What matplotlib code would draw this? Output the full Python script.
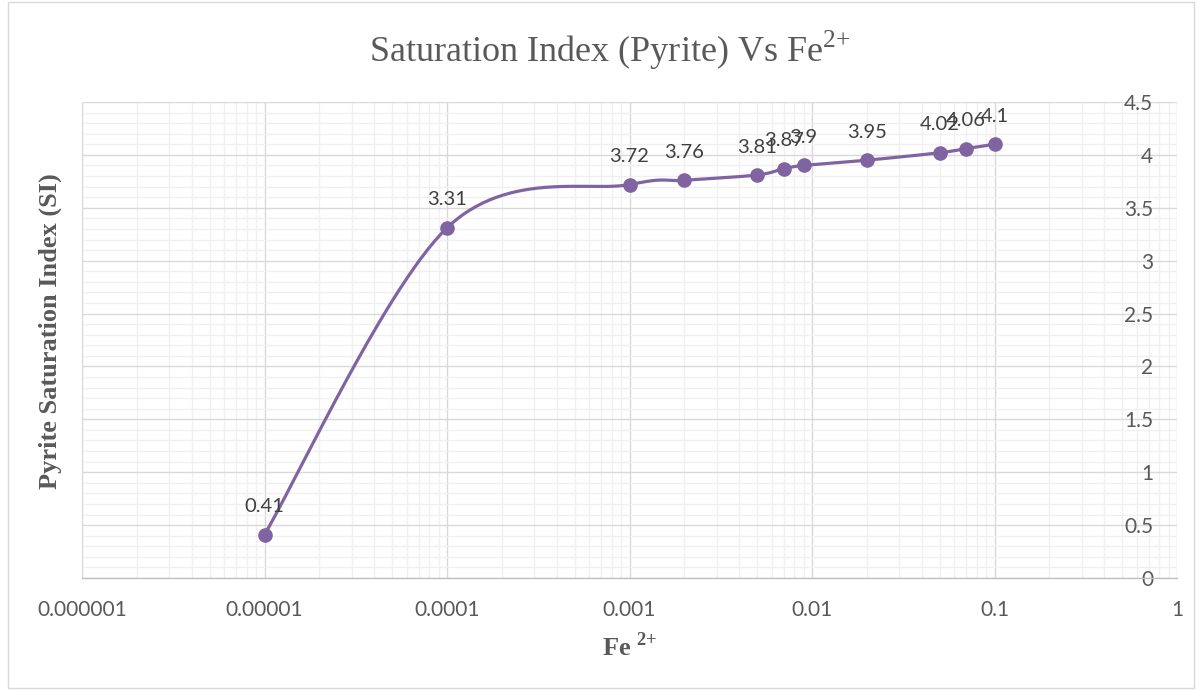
import numpy as np
import matplotlib
matplotlib.use("Agg")
import matplotlib.pyplot as plt
from matplotlib.ticker import FixedLocator, NullFormatter, LogLocator
from matplotlib.patches import Rectangle

# Fe2+ concentration and pyrite saturation index
fe_conc = [0.00001, 0.0001, 0.001, 0.002, 0.005, 0.007, 0.009, 0.02, 0.05, 0.07, 0.1]
sat_index = [0.41, 3.31, 3.72, 3.76, 3.81, 3.87, 3.9, 3.95, 4.02, 4.06, 4.1]
x_tick_vals = [1e-6, 1e-5, 1e-4, 1e-3, 1e-2, 1e-1, 1]
x_tick_labels = ["0.000001", "0.00001", "0.0001", "0.001", "0.01", "0.1", "1"]
y_tick_vals = [0, 0.5, 1, 1.5, 2, 2.5, 3, 3.5, 4, 4.5]
y_tick_labels = ["0", "0.5", "1", "1.5", "2", "2.5", "3", "3.5", "4", "4.5"]

plt.rcParams["mathtext.fontset"] = "custom"
plt.rcParams["mathtext.rm"] = "Liberation Serif"
plt.rcParams["mathtext.bf"] = "Liberation Serif:bold"

W, H = 1204, 690
fig = plt.figure(figsize=(W / 100, H / 100), dpi=100)
fig.patch.set_facecolor("white")

# chart-area border
fig.add_artist(Rectangle((8 / W, 2 / H), 1186 / W, 686 / H, transform=fig.transFigure,
                         fill=False, edgecolor="#D9D9D9", linewidth=1.0))

left, right, top, bottom = 82, 1177, 102, 578
ax = fig.add_axes([left / W, (H - bottom) / H, (right - left) / W, (bottom - top) / H])
ax.set_xscale("log")
ax.set_xlim(1e-6, 1)
ax.set_ylim(0, 4.5)

MAJ = "#D9D9D9"
MIN = "#F0F0F0"
TXT = "#595959"

# grid
ax.xaxis.set_major_locator(FixedLocator(x_tick_vals))
ax.xaxis.set_minor_locator(LogLocator(base=10, subs=np.arange(2, 10), numticks=20))
ax.xaxis.set_minor_formatter(NullFormatter())
ax.set_xticklabels(x_tick_labels)
ax.yaxis.set_major_locator(FixedLocator(y_tick_vals))
ax.yaxis.set_minor_locator(FixedLocator(np.round(np.arange(0, 4.51, 0.1), 2)))
ax.set_yticklabels(y_tick_labels)
ax.grid(which="minor", color=MIN, linewidth=1.0, zorder=0)
ax.grid(which="major", color=MAJ, linewidth=1.0, zorder=0)
ax.set_axisbelow(True)

for s in ["top", "right"]:
    ax.spines[s].set_visible(False)
ax.spines["left"].set_color(MAJ)
ax.spines["bottom"].set_color("#BFBFBF")
ax.spines["bottom"].set_linewidth(1.0)

ax.tick_params(which="both", length=0)
ax.tick_params(axis="x", pad=16, labelsize=15, labelcolor=TXT)
ax.yaxis.tick_right()
ax.tick_params(axis="y", pad=-17, labelsize=15, labelcolor=TXT)
for lab in ax.get_yticklabels():
    lab.set_horizontalalignment("right")
for lab in ax.get_xticklabels() + ax.get_yticklabels():
    lab.set_fontfamily("Lato")

# smoothed curve: cubic Bezier through the points in display space
pts = ax.transData.transform(np.column_stack([fe_conc, sat_index]))
n = len(pts)
curve = []
for i in range(n - 1):
    p0 = pts[max(i - 1, 0)]
    p1 = pts[i]
    p2 = pts[i + 1]
    p3 = pts[min(i + 2, n - 1)]
    c1 = p1 + (p2 - p0) / 6.0
    c2 = p2 - (p3 - p1) / 6.0
    t = np.linspace(0, 1, 60)[:, None]
    seg = ((1 - t) ** 3) * p1 + 3 * ((1 - t) ** 2) * t * c1 + 3 * (1 - t) * t ** 2 * c2 + t ** 3 * p2
    curve.append(seg if i == 0 else seg[1:])
curve = np.vstack(curve)
curve_data = ax.transData.inverted().transform(curve)

LINE = "#8064A2"
ax.plot(curve_data[:, 0], curve_data[:, 1], color=LINE, linewidth=2.3, zorder=3,
        solid_capstyle="round")
ax.plot(fe_conc, sat_index, linestyle="none", marker="o", markersize=9.5,
        color=LINE, zorder=4)

for xv, yv in zip(fe_conc, sat_index):
    ax.annotate(f"{yv:g}", (xv, yv), xytext=(0, 14), textcoords="offset points",
                ha="center", va="bottom", fontsize=14.5, color="#404040",
                fontfamily="Lato", zorder=5)

fig.text(610 / W, 1 - 50 / H, r"Saturation Index (Pyrite) Vs Fe$^{2{+}}$",
         ha="center", va="center", fontsize=26, color=TXT, fontfamily="Liberation Serif")
fig.text(630 / W, 1 - 647 / H, r"Fe $^{\mathbf{2{+}}}$", ha="center", va="center",
         fontsize=19, fontweight="bold", color=TXT, fontfamily="Liberation Serif")
fig.text(50 / W, 1 - 331 / H, "Pyrite Saturation Index (SI)", rotation=90,
         ha="center", va="center", fontsize=19, fontweight="bold", color=TXT,
         fontfamily="Liberation Serif")

fig.savefig("out.png", dpi=100, facecolor="white")
